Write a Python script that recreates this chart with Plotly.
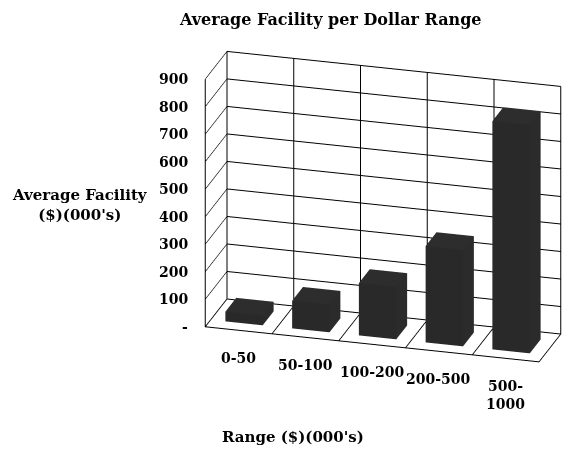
import plotly.graph_objects as go

# Average facility size (in $000's) for each dollar range
categories = ["0-50", "50-100", "100-200", "200-500", "500-<br>1000"]
avg_facility = [35, 100, 190, 350, 830]

value_ticks = [0, 100, 200, 300, 400, 500, 600, 700, 800, 900]
value_tick_text = ["-", "100", "200", "300", "400", "500", "600", "700", "800", "900"]

SERIF = "DejaVu Serif"
BAR_HALF_W = 0.28
DEPTH_LO, DEPTH_HI = 0.25, 0.75

# box faces as triangles over the 8 corners of a column
TRI_I = [0, 0, 4, 4, 0, 0, 1, 1, 2, 2, 3, 3]
TRI_J = [1, 2, 5, 6, 1, 5, 2, 6, 3, 7, 0, 4]
TRI_K = [2, 3, 6, 7, 5, 4, 6, 5, 7, 6, 4, 7]

fig = go.Figure()
for i, v in enumerate(avg_facility):
    x0, x1 = i - BAR_HALF_W, i + BAR_HALF_W
    fig.add_trace(go.Mesh3d(
        x=[x0, x1, x1, x0, x0, x1, x1, x0],
        y=[DEPTH_LO, DEPTH_LO, DEPTH_HI, DEPTH_HI, DEPTH_LO, DEPTH_LO, DEPTH_HI, DEPTH_HI],
        z=[0, 0, 0, 0, v, v, v, v],
        i=TRI_I, j=TRI_J, k=TRI_K,
        color="#333333",
        flatshading=True,
        lighting=dict(ambient=0.8, diffuse=0.25, specular=0.0, roughness=1.0, fresnel=0.0),
        hoverinfo="skip",
        showscale=False,
    ))

tick_font = dict(family=SERIF, size=14, color="black", weight="bold")
title_font = dict(family=SERIF, size=15, color="black", weight="bold")

category_labels = [
    dict(x=i, y=0, z=0, text=c, showarrow=False, yanchor="top", yshift=-18,
         font=tick_font, align="center")
    for i, c in enumerate(categories)
]
value_labels = [
    dict(x=-0.5, y=0, z=v, text=t, showarrow=False, xanchor="right",
         xshift=-15, font=tick_font)
    for v, t in zip(value_ticks, value_tick_text)
]

axis_common = dict(
    showbackground=False,
    showspikes=False,
    zeroline=False,
    showline=True,
    linecolor="black",
    linewidth=2,
    gridcolor="black",
    gridwidth=2,
    title=dict(text=""),
    ticks="",
    showticklabels=False,
)

fig.update_layout(
    width=576,
    height=451,
    margin=dict(l=0, r=0, t=0, b=0),
    paper_bgcolor="white",
    showlegend=False,
    scene=dict(
        domain=dict(x=[0.33, 1.0], y=[0.0, 1.0]),
        xaxis=dict(axis_common, range=[-0.5, 4.5],
                   tickvals=[-0.5, 0.5, 1.5, 2.5, 3.5, 4.5]),
        yaxis=dict(axis_common, range=[0, 1], showgrid=False),
        zaxis=dict(axis_common, range=[0, 900], tickvals=value_ticks),
        aspectmode="manual",
        aspectratio=dict(x=1.54, y=0.35, z=1.18),
        camera=dict(
            eye=dict(x=0.84, y=-2.93, z=1.11),
            center=dict(x=0, y=0, z=-0.09),
            up=dict(x=0, y=0, z=1),
            projection=dict(type="orthographic"),
        ),
        annotations=category_labels + value_labels,
    ),
    annotations=[
        dict(text="Average Facility per Dollar Range", x=330, y=20,
             showarrow=False, font=dict(title_font, size=16)),
        dict(text="Average Facility<br>($)(000's)", x=80, y=205,
             showarrow=False, font=title_font),
        dict(text="Range ($)(000's)", x=293, y=437,
             showarrow=False, font=title_font),
    ],
)

# page-level labels are given in pixels; convert to paper fractions
for ann in fig.layout.annotations:
    ann.xref = "paper"
    ann.yref = "paper"
    ann.xanchor = "center"
    ann.yanchor = "middle"
    ann.x = ann.x / 576
    ann.y = 1 - ann.y / 451

fig.write_html("out.html")
